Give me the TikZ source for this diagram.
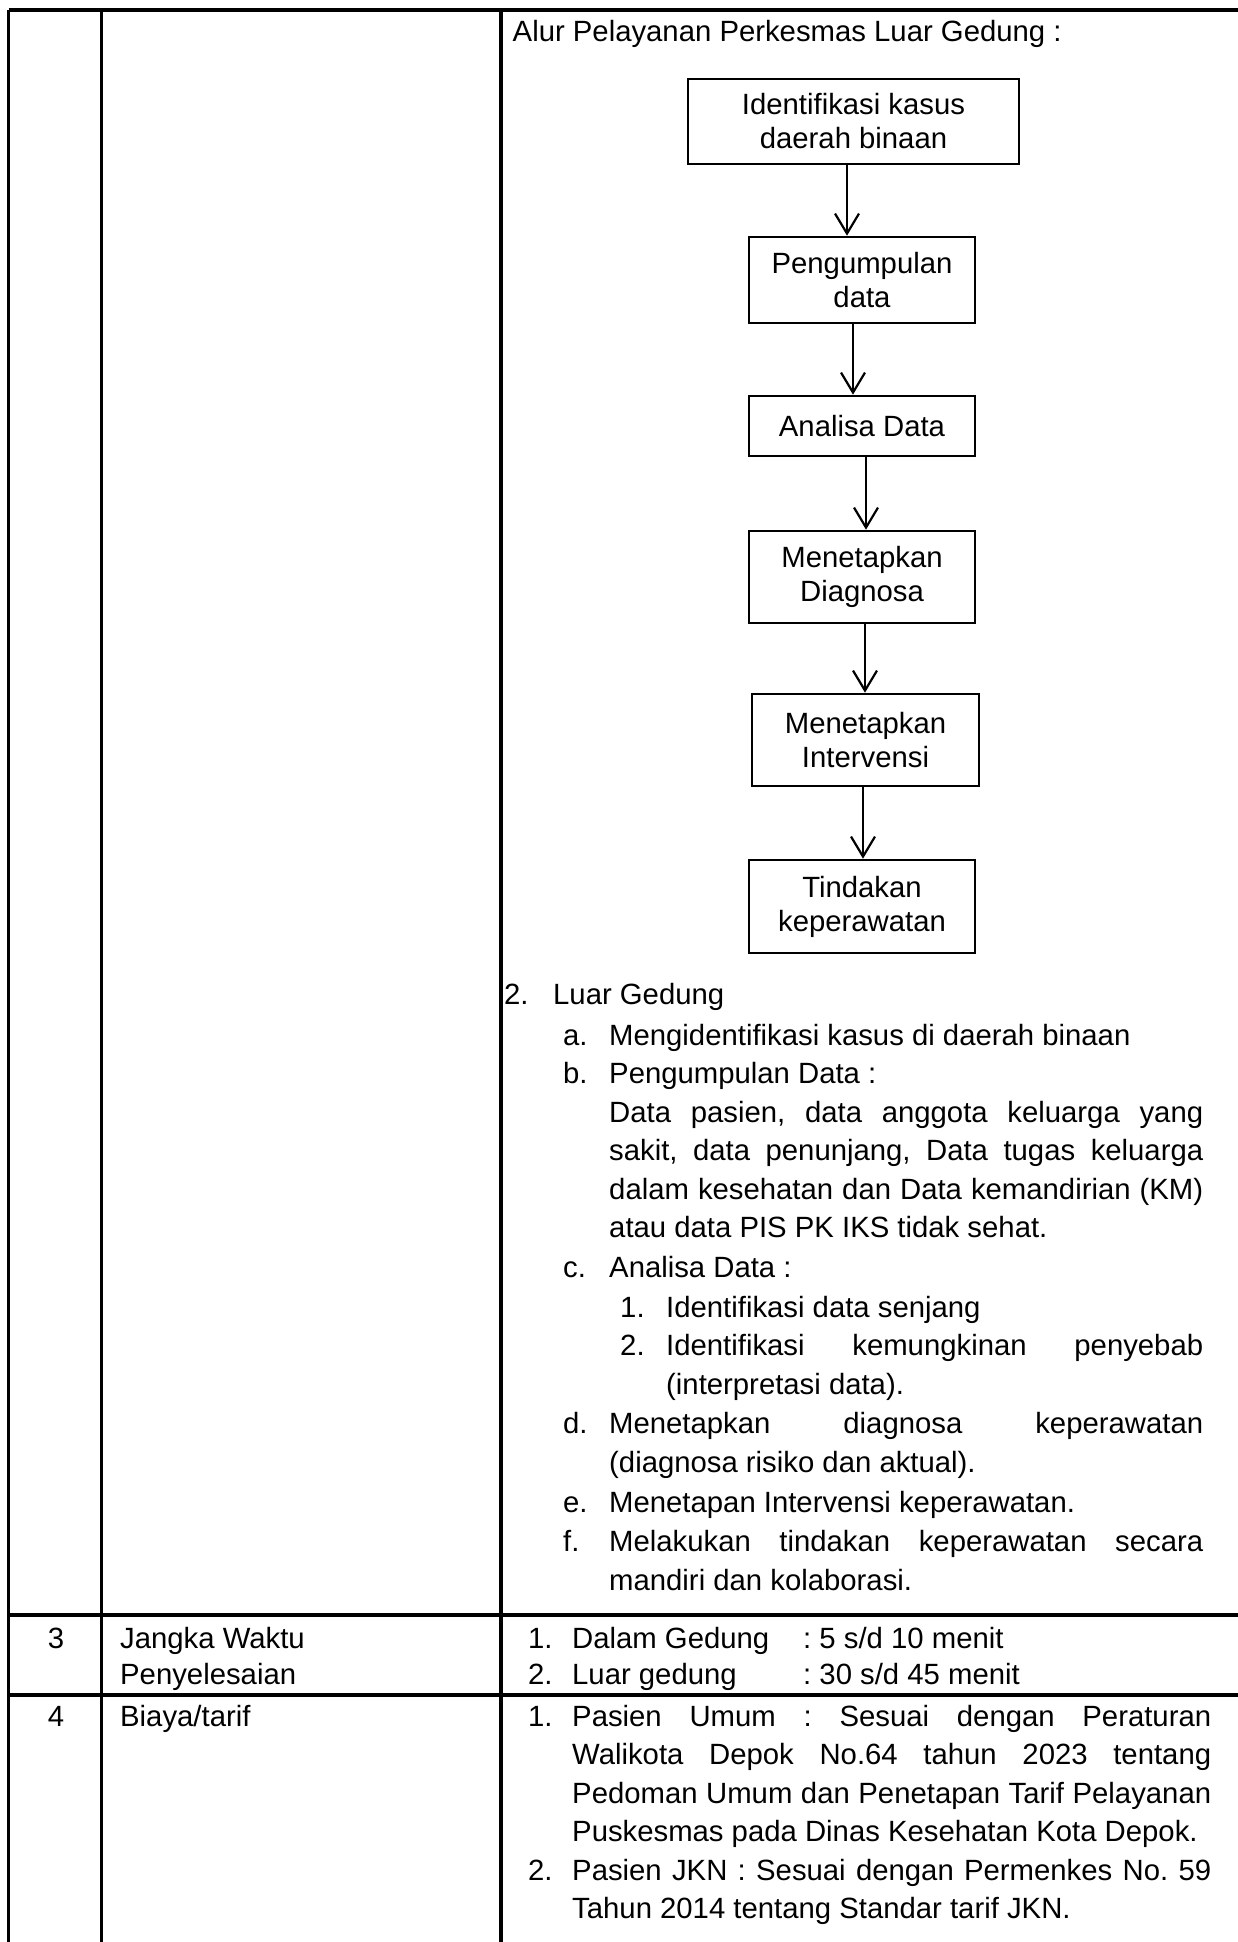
\documentclass[tikz,border=0pt]{standalone}
\usepackage{fontspec}
\setmainfont{Liberation Sans}
\usetikzlibrary{arrows.meta}
\newcommand\fs{\fontsize{29.3pt}{34pt}\selectfont\frenchspacing}
\begin{document}
\begin{tikzpicture}[x=1pt,y=-1pt,
  tbl/.style={line width=3.4pt},
  box/.style={draw,line width=2.6pt,rectangle,align=center,inner sep=0pt,font=\fs},
  arr/.style={line width=2.2pt,-{Straight Barb[length=20pt,width=24pt,line width=2.2pt]}},
  txt/.style={anchor=base west,inner sep=0pt,font=\fs},
  ctr/.style={anchor=base,inner sep=0pt,font=\fs}
]
\useasboundingbox (0,0) rectangle (1238,1942);
\fill[white] (0,0) rectangle (1238,1942);

% table grid
\coordinate (tl) at (8.7,10);
\coordinate (tr) at (1240,10);
\coordinate (bl) at (8.7,1942);
\coordinate (c1t) at (101.5,10);
\coordinate (c1b) at (101.5,1942);
\coordinate (c2t) at (501,10);
\coordinate (c2b) at (501,1942);
\coordinate (r1l) at (8.7,1615);
\coordinate (r1r) at (1240,1615);
\coordinate (r2l) at (8.7,1695);
\coordinate (r2r) at (1240,1695);
\draw[tbl] (tl) -- (tr);
\draw[tbl] (tl) -- (bl);
\draw[tbl] (c1t) -- (c1b);
\draw[tbl] (c2t) -- (c2b);
\draw[tbl] (r1l) -- (r1r);
\draw[tbl] (r2l) -- (r2r);

% heading
\node[txt] (head) at (512.5,42) {Alur Pelayanan Perkesmas Luar Gedung :};

% flowchart
\node[box,minimum width=331pt,minimum height=85pt] (b1) at (853.5,121.5) {Identifikasi kasus\\daerah binaan};
\node[box,minimum width=226pt,minimum height=86pt] (b2) at (862,280) {Pengumpulan\\data};
\node[box,minimum width=226pt,minimum height=60pt] (b3) at (862,426) {Analisa Data};
\node[box,minimum width=226pt,minimum height=92pt] (b4) at (862,577) {Menetapkan\\Diagnosa};
\node[box,minimum width=227pt,minimum height=92pt] (b5) at (865.5,740) {Menetapkan\\Intervensi};
\node[box,minimum width=226pt,minimum height=93pt] (b6) at (862,906.5) {Tindakan\\keperawatan};

\draw[arr] ([xshift=-6.5pt]b1.south) -- ([xshift=-15pt]b2.north);
\draw[arr] ([xshift=-9pt]b2.south) -- ([xshift=-9pt]b3.north);
\draw[arr] ([xshift=4pt]b3.south) -- ([xshift=4pt]b4.north);
\draw[arr] ([xshift=3pt]b4.south) -- ([xshift=-0.5pt]b5.north);
\draw[arr] ([xshift=-2.5pt]b5.south) -- ([xshift=1pt]b6.north);

% list: Luar Gedung
\node[txt] (n2) at (504,1004) {2.};
\node[txt] (n2t) at (553,1004) {Luar Gedung};
\node[txt] (la) at (563,1045) {a.};
\node[txt] (lat) at (609,1045) {Mengidentifikasi kasus di daerah binaan};
\node[txt] (lb) at (563,1083) {b.};
\node[txt] (lbt) at (609,1083) {Pengumpulan Data :};
\node[txt] (lb1) at (609,1122) {\makebox[594pt][s]{Data pasien, data anggota keluarga yang}};
\node[txt] (lb2) at (609,1160) {\makebox[594pt][s]{sakit, data penunjang, Data tugas keluarga}};
\node[txt] (lb3) at (609,1199) {\makebox[594pt][s]{dalam kesehatan dan Data kemandirian (KM)}};
\node[txt] (lb4) at (609,1237) {atau data PIS PK IKS tidak sehat.};
\node[txt] (lc) at (563,1277) {c.};
\node[txt] (lct) at (609,1277) {Analisa Data :};
\node[txt] (lc1) at (620,1317) {1.};
\node[txt] (lc1t) at (666,1317) {Identifikasi data senjang};
\node[txt] (lc2) at (620,1355) {2.};
\node[txt] (lc2t) at (666,1355) {\makebox[537pt][s]{Identifikasi kemungkinan penyebab}};
\node[txt] (lc3t) at (666,1394) {(interpretasi data).};
\node[txt] (ld) at (563,1433) {d.};
\node[txt] (ldt) at (609,1433) {\makebox[594pt][s]{Menetapkan diagnosa keperawatan}};
\node[txt] (ld2) at (609,1472) {(diagnosa risiko dan aktual).};
\node[txt] (le) at (563,1512) {e.};
\node[txt] (let) at (609,1512) {Menetapan Intervensi keperawatan.};
\node[txt] (lf) at (563,1551) {f.};
\node[txt] (lft) at (609,1551) {\makebox[594pt][s]{Melakukan tindakan keperawatan secara}};
\node[txt] (lf2) at (609,1590) {mandiri dan kolaborasi.};

% row 3
\node[ctr] (n3) at (56,1648) {3};
\node[txt] (j1) at (120,1648) {Jangka Waktu};
\node[txt] (j2) at (120,1684) {Penyelesaian};
\node[txt] (w1) at (528,1648) {1.};
\node[txt] (w1t) at (572,1648) {Dalam Gedung};
\node[txt] (w1v) at (803,1648) {: 5 s/d 10 menit};
\node[txt] (w2) at (528,1684) {2.};
\node[txt] (w2t) at (572,1684) {Luar gedung};
\node[txt] (w2v) at (803,1684) {: 30 s/d 45 menit};

% row 4
\node[ctr] (n4) at (56,1726) {4};
\node[txt] (bt) at (120,1726) {Biaya/tarif};
\node[txt] (p1) at (528,1726) {1.};
\node[txt] (p1a) at (572,1726) {\makebox[639pt][s]{Pasien Umum : Sesuai dengan Peraturan}};
\node[txt] (p1b) at (572,1764) {\makebox[639pt][s]{Walikota Depok No.64 tahun 2023 tentang}};
\node[txt] (p1c) at (572,1803) {\makebox[639pt][s]{Pedoman Umum dan Penetapan Tarif Pelayanan}};
\node[txt] (p1d) at (572,1841) {Puskesmas pada Dinas Kesehatan Kota Depok.};
\node[txt] (p2) at (528,1880) {2.};
\node[txt] (p2a) at (572,1880) {\makebox[639pt][s]{Pasien JKN : Sesuai dengan Permenkes No. 59}};
\node[txt] (p2b) at (572,1918) {Tahun 2014 tentang Standar tarif JKN.};
\end{tikzpicture}
\end{document}
